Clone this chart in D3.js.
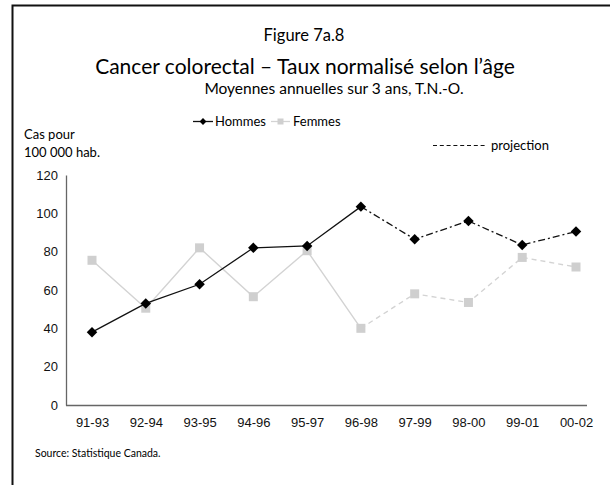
<!DOCTYPE html>
<html>
<head>
<meta charset="utf-8">
<script src="https://d3js.org/d3.v7.min.js"></script>
<style>
  body { margin: 0; background: #fff; }
  svg { display: block; font-family: Lato, "Noto Sans", sans-serif; }
  .tick text { font-size: 13px; fill: #111; }
</style>
</head>
<body>
<svg id="chart" width="610" height="485"></svg>
<script>
// periods (3-year moving averages)
var periods = ["91-93", "92-94", "93-95", "94-96", "95-97", "96-98", "97-99", "98-00", "99-01", "00-02"];
// rates per 100 000
var hommes = [38, 53, 63, 82, 83, 103.5, 86.5, 96, 83.5, 90.5];
var femmes = [75.5, 50.5, 82, 56.5, 80.5, 40, 58, 53.5, 77, 72];
// index where projection begins
var projStart = 5;
var yTicks = [0, 20, 40, 60, 80, 100, 120];

var svg = d3.select("svg#chart");

// frame: top and left only
svg.append("path")
  .attr("d", "M12.5,485 L12.5,5.5 L610,5.5")
  .attr("fill", "none")
  .attr("stroke", "#111")
  .attr("stroke-width", 2);

// titles
svg.append("text").attr("x", 304).attr("y", 41)
  .attr("text-anchor", "middle").style("font-size", "16.5px")
  .text("Figure 7a.8");
svg.append("text").attr("x", 305).attr("y", 74)
  .attr("text-anchor", "middle").style("font-size", "21px")
  .text("Cancer colorectal – Taux normalisé selon l’âge");
svg.append("text").attr("x", 334).attr("y", 94)
  .attr("text-anchor", "middle").style("font-size", "15.5px")
  .text("Moyennes annuelles sur 3 ans, T.N.-O.");

// y-axis title
svg.append("text").attr("x", 24).attr("y", 139).style("font-size", "13px").text("Cas pour");
svg.append("text").attr("x", 24).attr("y", 157).style("font-size", "13px").text("100 000 hab.");

var x = d3.scalePoint().domain(periods).range([92, 576]);
var y = d3.scaleLinear().domain([0, 120]).range([405, 175]);

// axes
var yAxis = svg.append("g")
  .attr("transform", "translate(66,0)")
  .call(d3.axisLeft(y).tickValues(yTicks).tickSize(0).tickPadding(8));
yAxis.select(".domain").attr("stroke", "#666").attr("stroke-width", 1.3);

var xAxis = svg.append("g")
  .attr("transform", "translate(0,405)")
  .call(d3.axisBottom(x).tickSize(0).tickPadding(13));
xAxis.select(".domain").remove();
svg.append("line")
  .attr("x1", 66).attr("x2", 587).attr("y1", 405.5).attr("y2", 405.5)
  .attr("stroke", "#666").attr("stroke-width", 1.3);

var line = d3.line()
  .x(function(d) { return x(periods[d.i]); })
  .y(function(d) { return y(d.v); });

function drawSeries(vals, color, dash, w) {
  var pts = vals.map(function(v, i) { return {v: v, i: i}; });
  svg.append("path").datum(pts.slice(0, projStart + 1))
    .attr("d", line).attr("fill", "none")
    .attr("stroke", color).attr("stroke-width", w);
  svg.append("path").datum(pts.slice(projStart))
    .attr("d", line).attr("fill", "none")
    .attr("stroke", color).attr("stroke-width", w)
    .attr("stroke-dasharray", dash);
  return pts;
}

var fPts = drawSeries(femmes, "#d3d3d3", "5,4", 1.4);
svg.selectAll("rect.femmes").data(fPts).enter().append("rect")
  .attr("class", "femmes")
  .attr("x", function(d) { return x(periods[d.i]) - 4.5; })
  .attr("y", function(d) { return y(d.v) - 4.5; })
  .attr("width", 9).attr("height", 9)
  .attr("fill", "#cfcfcf");

var hPts = drawSeries(hommes, "#111", "7,3,2,3", 1.3);
var diamond = d3.symbol().type(d3.symbolDiamond2).size(70);
svg.selectAll("path.hommes").data(hPts).enter().append("path")
  .attr("class", "hommes")
  .attr("d", diamond)
  .attr("transform", function(d) { return "translate(" + x(periods[d.i]) + "," + y(d.v) + ")"; })
  .attr("fill", "#000");

// legend
var leg = svg.append("g").style("font-size", "13px");
leg.append("line").attr("x1", 193).attr("x2", 213).attr("y1", 121.5).attr("y2", 121.5)
  .attr("stroke", "#111").attr("stroke-width", 1.3);
leg.append("path").attr("d", d3.symbol().type(d3.symbolDiamond2).size(30))
  .attr("transform", "translate(203,121.5)");
leg.append("text").attr("x", 215).attr("y", 126).text("Hommes");
leg.append("line").attr("x1", 271).attr("x2", 290).attr("y1", 121.5).attr("y2", 121.5)
  .attr("stroke", "#d3d3d3").attr("stroke-width", 1.3);
leg.append("rect").attr("x", 277.5).attr("y", 118.5).attr("width", 6).attr("height", 6)
  .attr("fill", "#cfcfcf");
leg.append("text").attr("x", 293).attr("y", 126).text("Femmes");

leg.append("line").attr("x1", 433).attr("x2", 487).attr("y1", 145.5).attr("y2", 145.5)
  .attr("stroke", "#111").attr("stroke-width", 1).attr("stroke-dasharray", "4,2.8");
leg.append("text").attr("x", 491).attr("y", 150).text("projection");

// source
svg.append("text").attr("x", 35).attr("y", 457)
  .style("font-size", "10.5px").text("Source: Statistique Canada.");
</script>
</body>
</html>
